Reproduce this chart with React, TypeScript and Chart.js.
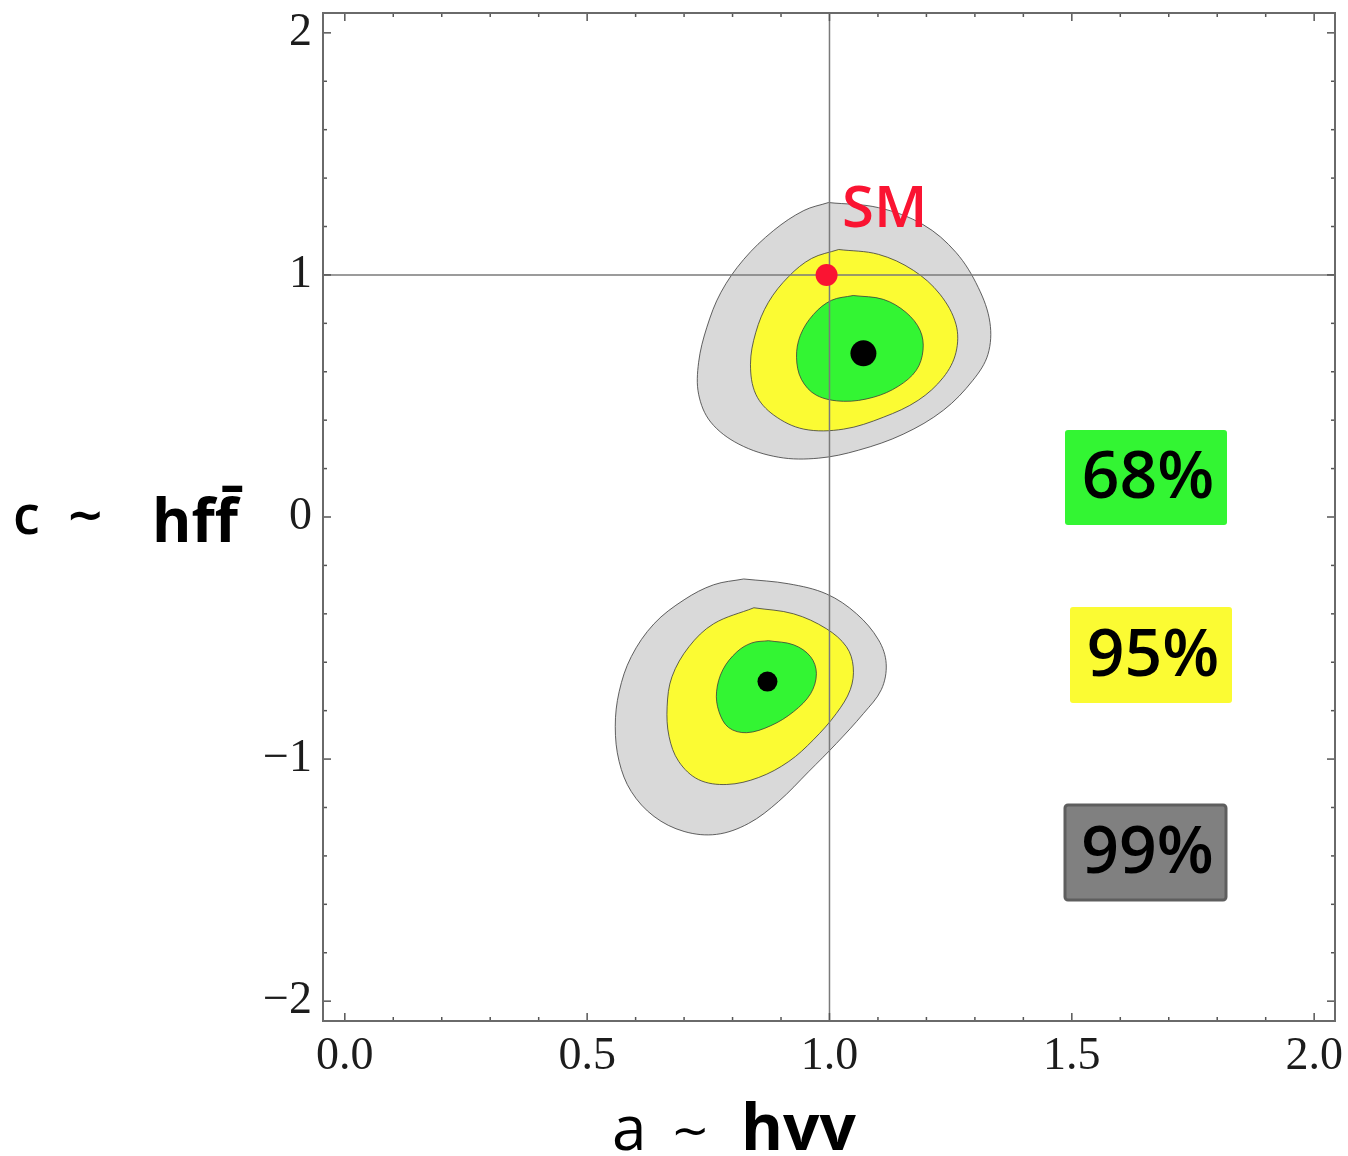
import { useEffect, useRef } from "react";
import { Chart, registerables } from "chart.js";

Chart.register(...registerables);

// Axis ranges (frame extends a little past the labelled ticks)
const X_MIN = -0.045;
const X_MAX = 2.043;
const Y_MIN = -2.082;
const Y_MAX = 2.082;

const xTickValues = [0, 0.5, 1, 1.5, 2];
const xTickLabels = ["0.0", "0.5", "1.0", "1.5", "2.0"];
const yTickValues = [-2, -1, 0, 1, 2];
const yTickLabels = ["\u22122", "\u22121", "0", "1", "2"];
const xFrameTicks = [0, 0.1, 0.2, 0.3, 0.4, 0.5, 0.6, 0.7, 0.8, 0.9, 1, 1.1, 1.2, 1.3, 1.4, 1.5, 1.6, 1.7, 1.8, 1.9, 2];
const yFrameTicks = [-2, -1.8, -1.6, -1.4, -1.2, -1, -0.8, -0.6, -0.4, -0.2, 0, 0.2, 0.4, 0.6, 0.8, 1, 1.2, 1.4, 1.6, 1.8, 2];

// Confidence-level contours, upper solution (c > 0)
const upperC99: [number, number][] = [
  [0.998, 1.299], [1.101, 1.278], [1.193, 1.208], [1.261, 1.093], [1.307, 0.948],
  [1.331, 0.804], [1.327, 0.672], [1.296, 0.565], [1.235, 0.441], [1.152, 0.342],
  [1.06, 0.276], [0.977, 0.243], [0.895, 0.247], [0.813, 0.301], [0.755, 0.392],
  [0.73, 0.507], [0.73, 0.639], [0.747, 0.784], [0.776, 0.928], [0.823, 1.064],
  [0.885, 1.184], [0.947, 1.266],
];
const upperC95: [number, number][] = [
  [1.019, 1.105], [1.101, 1.085], [1.173, 1.019], [1.228, 0.92], [1.261, 0.796],
  [1.261, 0.68], [1.235, 0.577], [1.183, 0.482], [1.111, 0.412], [1.029, 0.363],
  [0.947, 0.363], [0.885, 0.421], [0.848, 0.507], [0.837, 0.631], [0.848, 0.763],
  [0.874, 0.887], [0.916, 0.994], [0.963, 1.068],
];
const upperC68: [number, number][] = [
  [1.049, 0.915], [1.111, 0.899], [1.158, 0.845], [1.187, 0.771], [1.193, 0.689],
  [1.179, 0.606], [1.142, 0.54], [1.091, 0.495], [1.029, 0.478], [0.973, 0.503],
  [0.942, 0.569], [0.932, 0.66], [0.94, 0.751], [0.967, 0.837], [1.004, 0.895],
];

// Confidence-level contours, lower solution (c < 0)
const lowerC99: [number, number][] = [
  [0.823, -0.256], [0.916, -0.276], [0.994, -0.318], [1.056, -0.4], [1.101, -0.507],
  [1.117, -0.606], [1.107, -0.713], [1.07, -0.812], [1.014, -0.936], [0.957, -1.052],
  [0.895, -1.175], [0.833, -1.266], [0.767, -1.311], [0.7, -1.299], [0.638, -1.237],
  [0.591, -1.134], [0.566, -1.01], [0.558, -0.866], [0.566, -0.722], [0.591, -0.577],
  [0.638, -0.441], [0.7, -0.342], [0.761, -0.28],
];
const lowerC95: [number, number][] = [
  [0.844, -0.375], [0.926, -0.4], [0.994, -0.462], [1.035, -0.536], [1.049, -0.619],
  [1.043, -0.713], [1.014, -0.812], [0.967, -0.92], [0.916, -1.01], [0.854, -1.076],
  [0.788, -1.105], [0.73, -1.085], [0.689, -1.01], [0.669, -0.907], [0.665, -0.784],
  [0.675, -0.66], [0.71, -0.536], [0.761, -0.441],
];
const lowerC68: [number, number][] = [
  [0.874, -0.511], [0.926, -0.528], [0.961, -0.577], [0.973, -0.647], [0.961, -0.73],
  [0.926, -0.804], [0.879, -0.862], [0.829, -0.891], [0.792, -0.87], [0.772, -0.804],
  [0.767, -0.722], [0.78, -0.631], [0.809, -0.557], [0.84, -0.52],
];

// Best-fit points and the Standard Model point
const bestFitPoints: [number, number][] = [[1.07, 0.676], [0.872, -0.68]];
const bestFitRadii = [13, 10];
const smPoint: [number, number] = [0.994, 1.0];

const legendLabels = ["68%", "95%", "99%"];
const legendColors = ["#33f533", "#fbfb33", "#808080"];

const COLOR_99 = "#d9d9d9";
const COLOR_95 = "#fbfb33";
const COLOR_68 = "#33f533";

const closed = (pts: [number, number][]) =>
  [...pts, pts[0]].map(([x, y]) => ({ x, y }));

const contour = (pts: [number, number][], color: string, order: number) => ({
  data: closed(pts),
  showLine: true,
  fill: "shape",
  backgroundColor: color,
  borderColor: "rgba(60,60,60,0.8)",
  borderWidth: 1,
  pointRadius: 0,
  tension: 0.35,
  order,
});

const decorPlugin = {
  id: "decor",
  afterDatasetsDraw(chart: any) {
    const { ctx, chartArea: a, scales } = chart;
    const xs = scales.x;
    const ys = scales.y;
    ctx.save();
    ctx.strokeStyle = "#555";
    ctx.lineWidth = 1.5;
    const seg = (x1: number, y1: number, x2: number, y2: number) => {
      ctx.beginPath();
      ctx.moveTo(x1, y1);
      ctx.lineTo(x2, y2);
      ctx.stroke();
    };
    xFrameTicks.forEach((v) => {
      const px = xs.getPixelForValue(v);
      const len = xTickValues.some((m) => Math.abs(m - v) < 1e-6) ? 8 : 4;
      seg(px, a.bottom, px, a.bottom - len);
      seg(px, a.top, px, a.top + len);
    });
    yFrameTicks.forEach((v) => {
      const py = ys.getPixelForValue(v);
      const len = yTickValues.some((m) => Math.abs(m - v) < 1e-6) ? 8 : 4;
      seg(a.left, py, a.left + len, py);
      seg(a.right, py, a.right - len, py);
    });
    ctx.strokeStyle = "#6a6a6a";
    ctx.lineWidth = 2;
    ctx.strokeRect(a.left, a.top, a.right - a.left, a.bottom - a.top);
    ctx.restore();
  },
  afterDraw(chart: any) {
    const { ctx } = chart;
    ctx.save();
    ctx.textBaseline = "alphabetic";
    ctx.textAlign = "left";

    // "SM" tag next to the Standard Model point
    ctx.fillStyle = "rgb(250,20,50)";
    ctx.font = "600 58px 'Open Sans'";
    ctx.fillText("SM", 842, 227);

    // confidence-level key
    const boxes = [
      { x: 1065, y: 430, w: 162, h: 95 },
      { x: 1070, y: 607, w: 162, h: 96 },
      { x: 1065, y: 805, w: 161, h: 95 },
    ];
    boxes.forEach((b, i) => {
      ctx.fillStyle = legendColors[i];
      ctx.beginPath();
      ctx.roundRect(b.x, b.y, b.w, b.h, 3);
      ctx.fill();
      if (i === 2) {
        ctx.strokeStyle = "#5e5e5e";
        ctx.lineWidth = 3;
        ctx.stroke();
      }
      ctx.fillStyle = "#000";
      ctx.font = "600 66px 'Open Sans'";
      ctx.textAlign = "center";
      ctx.textBaseline = "middle";
      ctx.fillText(legendLabels[i], b.x + b.w / 2 + 2, b.y + b.h / 2 + 2);
    });

    // axis titles
    ctx.textAlign = "left";
    ctx.textBaseline = "alphabetic";
    ctx.fillStyle = "#000";
    ctx.font = "62px 'Open Sans'";
    ctx.fillText("a", 612, 1150);
    ctx.font = "46px 'DejaVu Sans'";
    ctx.fillText("~", 671, 1146);
    ctx.font = "bold 64px 'Open Sans'";
    ctx.fillText("hvv", 741, 1150);

    ctx.font = "600 54px 'Open Sans'";
    ctx.fillText("c", 13, 534);
    ctx.font = "bold 46px 'DejaVu Sans'";
    ctx.fillText("~", 66, 530);
    ctx.font = "bold 60px 'Open Sans'";
    ctx.fillText("hff\u0304", 152, 542);
    ctx.restore();
  },
};

export default function App() {
  const canvasRef = useRef<HTMLCanvasElement | null>(null);

  useEffect(() => {
    const canvas = canvasRef.current;
    if (!canvas) return;
    const tickFont = { family: "'Liberation Serif', serif", size: 46 };
    const chart = new Chart(canvas, {
      type: "scatter",
      data: {
        datasets: [
          contour(upperC99, COLOR_99, 30),
          contour(upperC95, COLOR_95, 29),
          contour(upperC68, COLOR_68, 28),
          contour(lowerC99, COLOR_99, 30),
          contour(lowerC95, COLOR_95, 29),
          contour(lowerC68, COLOR_68, 28),
          {
            data: [{ x: 1, y: Y_MIN }, { x: 1, y: Y_MAX }],
            showLine: true,
            borderColor: "#7a7a7a",
            borderWidth: 1.5,
            pointRadius: 0,
            order: 10,
          },
          {
            data: [{ x: X_MIN, y: 1 }, { x: X_MAX, y: 1 }],
            showLine: true,
            borderColor: "#7a7a7a",
            borderWidth: 1.5,
            pointRadius: 0,
            order: 10,
          },
          {
            data: bestFitPoints.map(([x, y]) => ({ x, y })),
            pointRadius: bestFitRadii,
            pointBackgroundColor: "#000",
            pointBorderWidth: 0,
            order: 2,
          },
          {
            data: [{ x: smPoint[0], y: smPoint[1] }],
            pointRadius: 11,
            pointBackgroundColor: "rgb(250,20,50)",
            pointBorderWidth: 0,
            order: 1,
          },
        ] as any,
      },
      options: {
        responsive: false,
        animation: false,
        layout: { padding: { top: 10, right: 8, left: 0, bottom: 0 } },
        plugins: {
          legend: { display: false },
          tooltip: { enabled: false },
        },
        scales: {
          x: {
            type: "linear",
            min: X_MIN,
            max: X_MAX,
            grid: { display: false, drawTicks: false },
            border: { display: false },
            afterBuildTicks: (scale: any) => {
              scale.ticks = xTickValues.map((value) => ({ value }));
            },
            afterFit: (scale: any) => {
              scale.height = 135;
              scale.paddingLeft = 0;
              scale.paddingRight = 0;
            },
            ticks: {
              font: tickFont,
              color: "#1c1c1c",
              padding: 8,
              maxRotation: 0,
              autoSkip: false,
              callback: (_v: any, i: number) => xTickLabels[i],
            },
          },
          y: {
            type: "linear",
            min: Y_MIN,
            max: Y_MAX,
            grid: { display: false, drawTicks: false },
            border: { display: false },
            afterBuildTicks: (scale: any) => {
              scale.ticks = yTickValues.map((value) => ({ value }));
            },
            afterFit: (scale: any) => {
              scale.width = 323;
              scale.paddingTop = 0;
              scale.paddingBottom = 0;
            },
            ticks: {
              font: tickFont,
              color: "#1c1c1c",
              padding: 11,
              autoSkip: false,
              callback: (_v: any, i: number) => yTickLabels[i],
            },
          },
        },
      },
      plugins: [decorPlugin],
    });
    return () => chart.destroy();
  }, []);

  return (
    <div style={{ position: "absolute", left: 0, top: 0, width: 1348, height: 1156, background: "#fff" }}>
      <canvas ref={canvasRef} width={1348} height={1156} />
    </div>
  );
}
